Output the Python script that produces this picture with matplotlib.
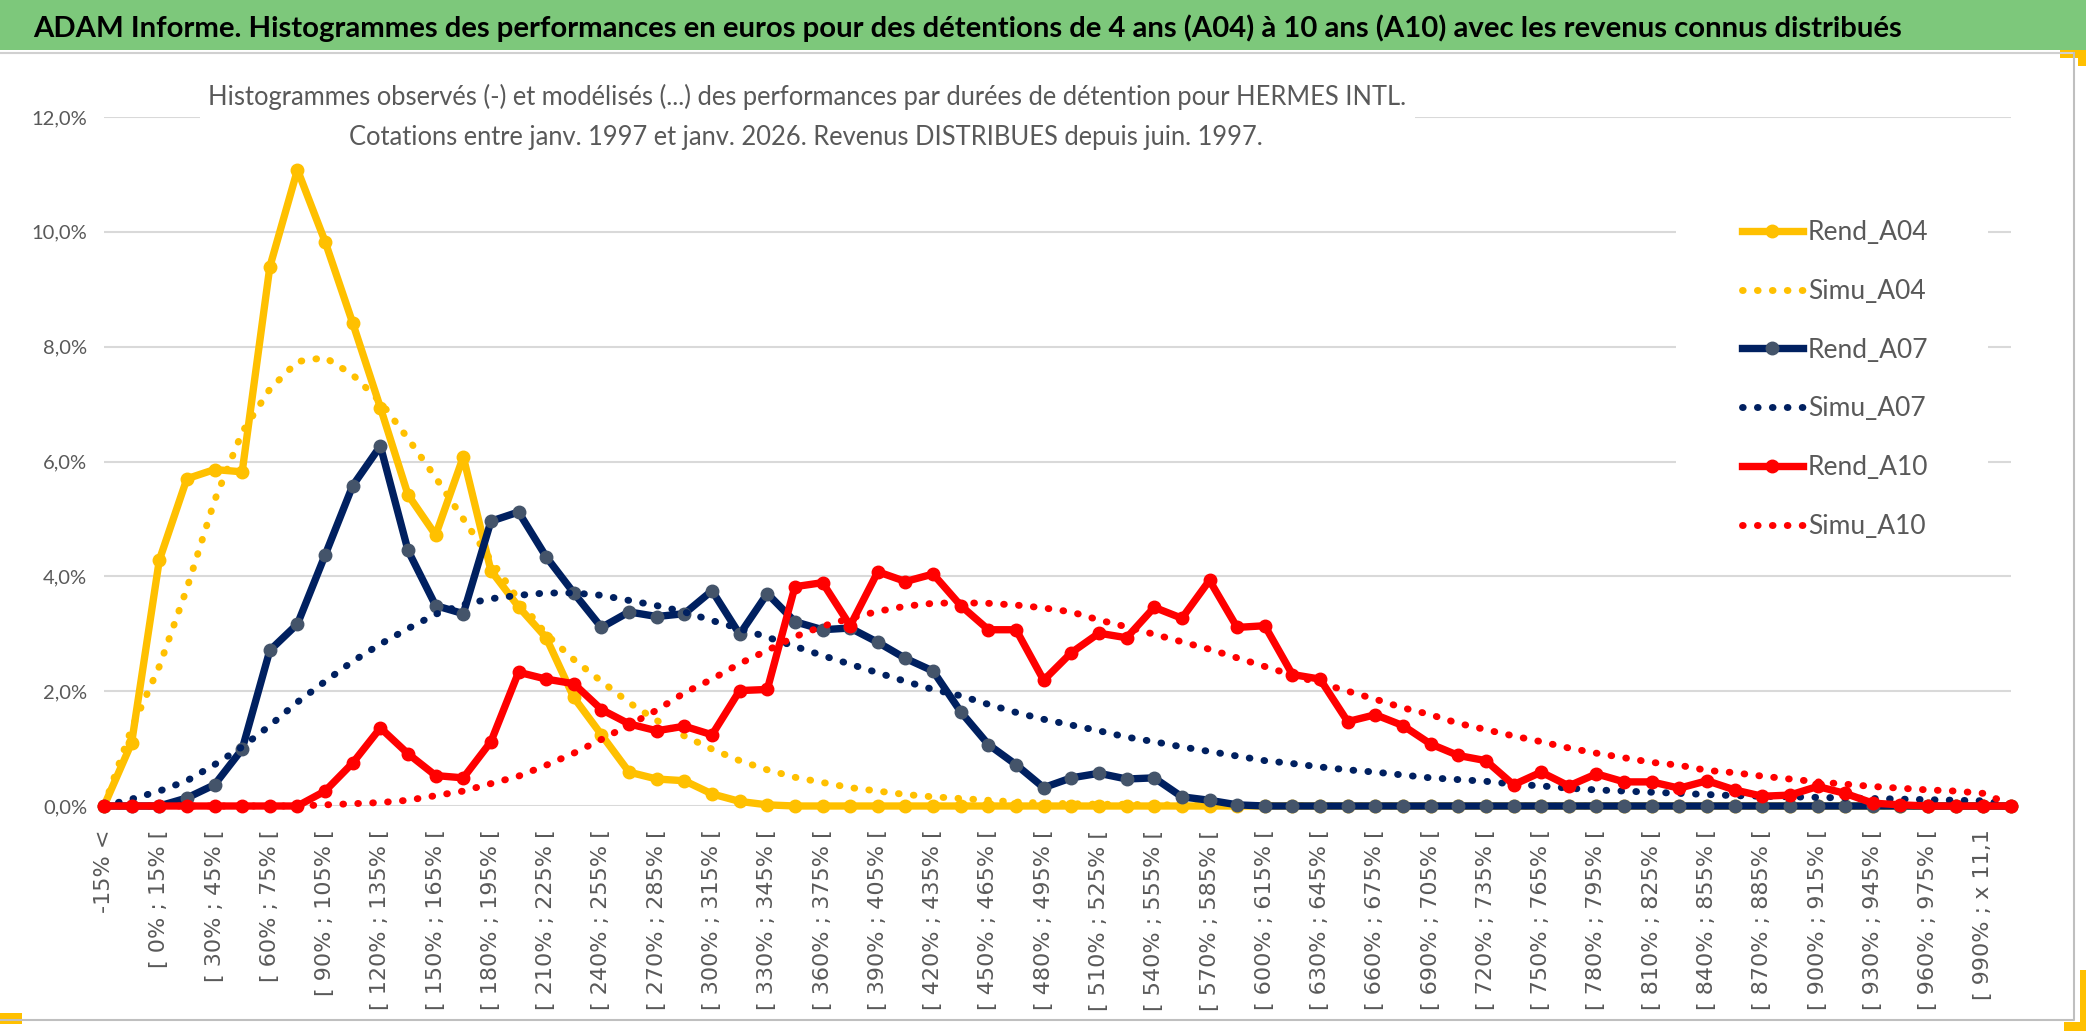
import matplotlib
matplotlib.use("Agg")
import matplotlib.pyplot as plt
from matplotlib import font_manager
from matplotlib.patches import Rectangle
from matplotlib.lines import Line2D

# categories : -15% <, [ -15% ; 0% [, [ 0% ; 15% [ ... [ 990% ; x 11,1, x 11,1 <
categories = ["-15% <", "[ -15% ; 0% ["]
categories += ["[ %d%% ; %d%% [" % (15 * i, 15 * (i + 1)) for i in range(66)]
categories += ["[ 990% ; x 11,1", "x 11,1 <"]

# valeurs (en %)
rend_a04 = [0, 1.1, 4.28, 5.70, 5.86, 5.82, 9.39, 11.08, 9.83, 8.41,
            6.94, 5.42, 4.72, 6.08, 4.10, 3.47, 2.93, 1.89, 1.24, 0.59,
            0.47, 0.44, 0.21, 0.08, 0.02, 0, 0, 0, 0, 0,
            0, 0, 0, 0, 0, 0, 0, 0, 0, 0,
            0, 0, 0, 0, 0, 0, 0, 0, 0, 0,
            0, 0, 0, 0, 0, 0, 0, 0, 0, 0,
            0, 0, 0, 0, 0, 0, 0, 0, 0, 0]
simu_a04 = [0, 1.35, 2.43, 3.79, 5.32, 6.51, 7.26, 7.74, 7.81, 7.51,
            7.04, 6.40, 5.72, 5.00, 4.28, 3.59, 2.99, 2.55, 2.17, 1.80,
            1.49, 1.22, 0.99, 0.79, 0.63, 0.50, 0.41, 0.32, 0.26, 0.20,
            0.16, 0.13, 0.10, 0.07, 0.05, 0.04, 0.03, 0.03, 0.02, 0.02,
            0.01, 0.01, 0.01, 0.01, 0, 0, 0, 0, 0, 0,
            0, 0, 0, 0, 0, 0, 0, 0, 0, 0,
            0, 0, 0, 0, 0, 0, 0, 0, 0, 0]
rend_a07 = [0, 0, 0, 0.14, 0.37, 0.99, 2.71, 3.17, 4.37, 5.58,
            6.27, 4.45, 3.49, 3.35, 4.96, 5.12, 4.34, 3.71, 3.11, 3.38,
            3.30, 3.35, 3.75, 2.99, 3.70, 3.21, 3.07, 3.10, 2.85, 2.57,
            2.35, 1.64, 1.07, 0.72, 0.32, 0.49, 0.57, 0.47, 0.49, 0.16,
            0.10, 0.02, 0, 0, 0, 0, 0, 0, 0, 0,
            0, 0, 0, 0, 0, 0, 0, 0, 0, 0,
            0, 0, 0, 0, 0, 0, 0, 0, 0, 0]
simu_a07 = [0, 0.12, 0.26, 0.44, 0.72, 1.03, 1.40, 1.81, 2.17, 2.52,
            2.82, 3.09, 3.34, 3.51, 3.61, 3.67, 3.71, 3.71, 3.67, 3.58,
            3.49, 3.38, 3.23, 3.09, 2.94, 2.78, 2.62, 2.47, 2.32, 2.17,
            2.03, 1.92, 1.77, 1.63, 1.51, 1.41, 1.31, 1.20, 1.12, 1.03,
            0.95, 0.87, 0.79, 0.74, 0.68, 0.63, 0.59, 0.54, 0.49, 0.46,
            0.43, 0.38, 0.35, 0.31, 0.28, 0.26, 0.24, 0.22, 0.20, 0.18,
            0.17, 0.16, 0.15, 0.14, 0.13, 0.12, 0.11, 0.10, 0.09, 0.02]
rend_a10 = [0, 0, 0, 0, 0, 0, 0, 0, 0.26, 0.75,
            1.36, 0.91, 0.53, 0.49, 1.12, 2.33, 2.21, 2.13, 1.68, 1.43,
            1.31, 1.39, 1.24, 2.01, 2.03, 3.82, 3.89, 3.14, 4.08, 3.91,
            4.04, 3.49, 3.07, 3.07, 2.19, 2.67, 3.01, 2.93, 3.46, 3.27,
            3.93, 3.11, 3.14, 2.29, 2.21, 1.47, 1.59, 1.40, 1.08, 0.88,
            0.79, 0.37, 0.59, 0.35, 0.56, 0.42, 0.42, 0.31, 0.44, 0.28,
            0.17, 0.19, 0.34, 0.22, 0.05, 0.02, 0, 0, 0, 0]
simu_a10 = [0, 0, 0, 0, 0, 0, 0, 0, 0.02, 0.04,
            0.06, 0.10, 0.18, 0.26, 0.39, 0.52, 0.71, 0.92, 1.16, 1.41,
            1.67, 1.97, 2.21, 2.48, 2.71, 2.95, 3.13, 3.27, 3.39, 3.48,
            3.53, 3.54, 3.53, 3.50, 3.45, 3.38, 3.24, 3.12, 2.99, 2.86,
            2.73, 2.58, 2.43, 2.28, 2.14, 2.00, 1.86, 1.71, 1.59, 1.44,
            1.33, 1.22, 1.12, 1.01, 0.92, 0.84, 0.76, 0.71, 0.62, 0.58,
            0.52, 0.47, 0.42, 0.38, 0.34, 0.31, 0.28, 0.26, 0.22, 0.02]

yticks = [0, 2, 4, 6, 8, 10, 12]

YELLOW = "#FFC000"
NAVY = "#002060"
NAVY_MK = "#44546A"
RED = "#FF0000"
GREY_TXT = "#595959"
GRID = "#D9D9D9"

names = {f.name for f in font_manager.fontManager.ttflist}
narrow = "Liberation Sans Narrow" if "Liberation Sans Narrow" in names else "Lato"

W, H = 2086, 1031
fig = plt.figure(figsize=(W / 100, H / 100), dpi=100)
fig.patch.set_facecolor("white")


def fx(x):
    return x / W


def fy(y):
    return 1 - y / H


ax = fig.add_axes([fx(104), fy(806), fx(2011) - fx(104), fy(117) - fy(806)])
x = list(range(len(categories)))

LW = 5.3
MS = 9
DLW = 5
dot = (0, (0.1, 2.05))
ax.plot(x, rend_a04, color=YELLOW, lw=LW, marker="o", ms=MS, mfc=YELLOW, mec=YELLOW,
        clip_on=False, zorder=3, label="Rend_A04")
ax.plot(x, simu_a04, color=YELLOW, lw=DLW, ls=dot, dash_capstyle="round",
        clip_on=False, zorder=3, label="Simu_A04")
ax.plot(x, rend_a07, color=NAVY, lw=LW, marker="o", ms=MS, mfc=NAVY_MK, mec=NAVY_MK,
        clip_on=False, zorder=3, label="Rend_A07")
ax.plot(x, simu_a07, color=NAVY, lw=DLW, ls=dot, dash_capstyle="round",
        clip_on=False, zorder=3, label="Simu_A07")
ax.plot(x, rend_a10, color=RED, lw=LW, marker="o", ms=MS, mfc=RED, mec=RED,
        clip_on=False, zorder=3, label="Rend_A10")
ax.plot(x, simu_a10, color=RED, lw=DLW, ls=dot, dash_capstyle="round",
        clip_on=False, zorder=3, label="Simu_A10")

ax.set_xlim(0, len(categories) - 1)
ax.set_ylim(0, 12)
ax.set_yticks(yticks)
ax.set_yticklabels([("%.1f%%" % v).replace(".", ",") for v in yticks],
                   fontsize=14.5, color=GREY_TXT, family=narrow)
ax.set_xticks(x[::2])
ax.set_xticklabels(categories[::2], rotation=90, fontsize=16, color=GREY_TXT,
                   family="DejaVu Sans")
ax.set_xticks(x[::4], minor=True)
ax.tick_params(axis="both", which="both", length=0)
ax.tick_params(axis="x", pad=17)
ax.tick_params(axis="y", pad=12)
ax.grid(axis="y", which="major", color=GRID, lw=1.5)
ax.grid(axis="x", which="minor", color=GRID, lw=1.5)
ax.set_axisbelow(True)
for s in ax.spines.values():
    s.set_visible(False)

# caches blancs sous le sous-titre et la legende
ax.add_patch(Rectangle((fx(200), fy(159)), fx(1415) - fx(200), fy(60) - fy(159),
                       transform=fig.transFigure, facecolor="white", edgecolor="none",
                       zorder=1, clip_on=False))
ax.add_patch(Rectangle((fx(1676), fy(550)), fx(1988) - fx(1676), fy(204) - fy(550),
                       transform=fig.transFigure, facecolor="white", edgecolor="none",
                       zorder=1, clip_on=False))

leg = ax.legend(loc="upper left", bbox_to_anchor=(fx(1742), fy(220)),
                bbox_transform=fig.transFigure, frameon=False,
                prop={"family": narrow, "size": 19}, handlelength=2.3,
                handletextpad=0.2, labelspacing=1.28, borderpad=0, borderaxespad=0)
for t in leg.get_texts():
    t.set_color(GREY_TXT)

# bandeau vert du titre
fig.add_artist(Rectangle((0, fy(50)), 1, fy(0) - fy(50), transform=fig.transFigure,
                         facecolor="#7DC87B", edgecolor="none"))
fig.add_artist(Line2D([0, fx(2074)], [fy(53), fy(53)], transform=fig.transFigure,
                      color="#D0D0D0", lw=1.5))
fig.add_artist(Line2D([fx(2074), fx(2074), 0], [fy(53), fy(1020), fy(1020)],
                      transform=fig.transFigure, color="#BFBFBF", lw=1.5))
# poignees jaunes de selection
for (x0, y0, x1, y1) in [(0, 1013, 22, 1024), (2060, 50, 2086, 58), (2078, 50, 2086, 66),
                         (2064, 1022, 2086, 1031), (2080, 970, 2086, 1031)]:
    fig.add_artist(Rectangle((fx(x0), fy(y1)), fx(x1) - fx(x0), fy(y0) - fy(y1),
                             transform=fig.transFigure, facecolor=YELLOW, edgecolor="none"))

title = fig.text(fx(33), fy(28), "ADAM Informe. Histogrammes des performances en euros pour des "
                 "détentions de 4 ans (A04) à 10 ans (A10) avec les revenus connus distribués",
                 ha="left", va="center", fontsize=24, fontweight="bold", color="black",
                 family=narrow)
sub1 = fig.text(fx(807), fy(97), "Histogrammes observés (-) et modélisés (...) des performances "
                "par durées de détention pour HERMES INTL.", ha="center", va="center",
                fontsize=20, color=GREY_TXT, family=narrow)
sub2 = fig.text(fx(806), fy(138), "Cotations entre janv. 1997 et janv. 2026. Revenus "
                "DISTRIBUES depuis juin. 1997.", ha="center", va="center",
                fontsize=20, color=GREY_TXT, family=narrow)

# ajuste la taille des textes a la largeur du modele
fig.canvas.draw()
r = fig.canvas.get_renderer()
title.set_fontsize(title.get_fontsize() * 1870 / title.get_window_extent(r).width)
k = 1201 / sub1.get_window_extent(r).width
sub1.set_fontsize(sub1.get_fontsize() * k)
sub2.set_fontsize(sub2.get_fontsize() * k)

fig.savefig("out.png", dpi=100, facecolor="white")
